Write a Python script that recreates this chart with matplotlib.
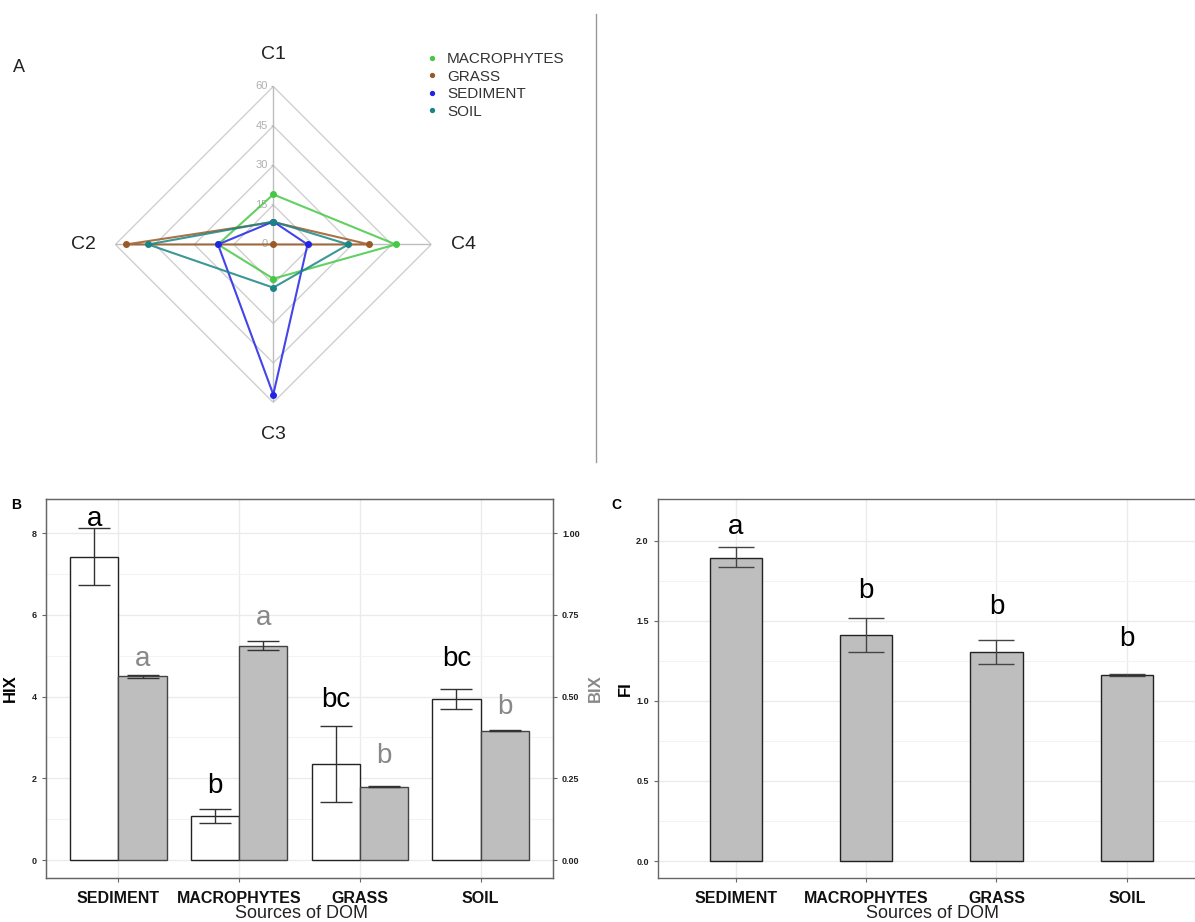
import numpy as np
import matplotlib
matplotlib.use("Agg")
import matplotlib.pyplot as plt

plt.rcParams['font.family'] = ['Liberation Sans', 'DejaVu Sans']

# ---------------- data ----------------
components = ["C1", "C2", "C3", "C4"]
radar_series = ["MACROPHYTES", "GRASS", "SEDIMENT", "SOIL"]
radar_macrophytes = [19, 21, 13, 46.5]
radar_grass = [8.5, 56, 0, 36.5]
radar_sediment = [8.7, 21, 57, 13]
radar_soil = [8.7, 47.5, 16.4, 28.5]
radar_colors = ["#46c846", "#9a5a28", "#2323e6", "#1a8585"]
radar_ticks = [0, 15, 30, 45, 60]

sources = ["SEDIMENT", "MACROPHYTES", "GRASS", "SOIL"]
hix_mean = [7.41, 1.07, 2.35, 3.95]
hix_low = [6.72, 0.90, 1.43, 3.70]
hix_high = [8.12, 1.26, 3.27, 4.19]
hix_letters = ["a", "b", "bc", "bc"]
hix_letter_y = [8.18, 1.65, 3.75, 4.75]

bix_mean = [0.563, 0.655, 0.224, 0.396]
bix_low = [0.558, 0.641, 0.223, 0.395]
bix_high = [0.567, 0.670, 0.225, 0.397]
bix_letters = ["a", "a", "b", "b"]
bix_letter_y = [0.594, 0.719, 0.296, 0.446]

fi_mean = [1.895, 1.411, 1.305, 1.160]
fi_low = [1.837, 1.305, 1.230, 1.154]
fi_high = [1.960, 1.520, 1.380, 1.169]
fi_letters = ["a", "b", "b", "b"]
fi_letter_y = [2.04, 1.64, 1.54, 1.34]

fig = plt.figure(figsize=(11.95, 9.22), dpi=100)

# ---------------- panel A: radar ----------------
axA = fig.add_axes([0.0965, 0.5635, 0.2644, 0.3427], projection='polar')
axA.set_theta_zero_location('N')
angles = np.deg2rad([0, 90, 180, 270])  # N, W, S, E (counter-clockwise)
axA.set_ylim(0, 60)
axA.grid(False)
axA.spines['polar'].set_visible(False)
axA.set_xticks([])
axA.set_yticks([])
axA.patch.set_alpha(0)

closed = np.append(angles, angles[0])
for r in radar_ticks[1:]:
    axA.plot(closed, [r] * 5, color='#d0d0d0', lw=1.0, zorder=1)
for a in angles:
    axA.plot([a, a], [0, 60], color='#bdbdbd', lw=1.0, zorder=1)
for r in radar_ticks:
    axA.annotate(str(r), xy=(0, r), xytext=(-4, 0), textcoords='offset points',
                 ha='right', va='center', fontsize=8, color='#b0b0b0')
    axA.annotate("", xy=(0, r), xytext=(-3, 0), textcoords='offset points',
                 arrowprops=dict(arrowstyle='-', color='#b0b0b0', lw=0.8))
for a, c in zip(angles, components):
    axA.text(a, 72.2, c, ha='center', va='center', fontsize=14, color='#222222',
             clip_on=False)

series_vals = [radar_macrophytes, radar_grass, radar_sediment, radar_soil]
for name, vals, col in zip(radar_series, series_vals, radar_colors):
    v = vals + [vals[0]]
    axA.plot(closed, v, color=col, lw=1.5, alpha=0.85, zorder=3)
    axA.plot(angles, vals, 'o', color=col, ms=4, zorder=4, label=name)

leg = fig.legend(*axA.get_legend_handles_labels(), loc='upper left',
                 bbox_to_anchor=(0.346, 0.958), frameon=False, fontsize=11,
                 handlelength=0.6, handletextpad=0.7, labelspacing=0.22,
                 markerscale=0.7)
for t in leg.get_texts():
    t.set_color('#333333')

fig.text(0.011, 0.927, "A", fontsize=13, color='#222222', va='center')
fig.add_artist(plt.Line2D([0.4987, 0.4987], [0.499, 0.985], color='#999999', lw=1))

# ---------------- helpers ----------------
def style_axes(ax):
    for s in ax.spines.values():
        s.set_color('#666666')
        s.set_linewidth(1.0)
    ax.tick_params(axis='both', length=3, color='#666666', labelsize=6.5,
                   labelcolor='#222222')
    for lab in ax.get_yticklabels():
        lab.set_fontweight('bold')
    ax.grid(True, which='major', color='#ebebeb', lw=1.0)
    ax.grid(True, which='minor', axis='y', color='#f3f3f3', lw=0.8)
    ax.set_axisbelow(True)

x = np.arange(1, 5)
bw = 0.4

# ---------------- panel B ----------------
axB = fig.add_axes([0.0385, 0.0477, 0.4243, 0.411])
axB.set_xlim(0.4, 4.6)
axB.set_ylim(-0.44, 8.83)
axB.bar(x - bw / 2, hix_mean, width=bw, color='white', edgecolor='#222222', lw=1, zorder=2)
axB.bar(x + bw / 2, np.array(bix_mean) * 8, width=bw, color='#bebebe',
        edgecolor='#444444', lw=1, zorder=2)
axB.errorbar(x - bw / 2, hix_mean,
             yerr=[np.array(hix_mean) - hix_low, np.array(hix_high) - hix_mean],
             fmt='none', ecolor='#333333', elinewidth=1, capsize=11.5, capthick=1, zorder=3)
axB.errorbar(x + bw / 2, np.array(bix_mean) * 8,
             yerr=[(np.array(bix_mean) - bix_low) * 8, (np.array(bix_high) - bix_mean) * 8],
             fmt='none', ecolor='#333333', elinewidth=1, capsize=11.5, capthick=1, zorder=3)
for xi, lab, yy in zip(x - bw / 2, hix_letters, hix_letter_y):
    axB.text(xi, yy, lab, ha='center', va='baseline', fontsize=20, color='black')
for xi, lab, yy in zip(x + bw / 2, bix_letters, bix_letter_y):
    axB.text(xi, yy * 8, lab, ha='center', va='baseline', fontsize=20, color='#888888')
axB.set_xticks(x)
axB.set_xticklabels(sources)
axB.set_yticks([0, 2, 4, 6, 8])
axB.set_yticks([1, 3, 5, 7], minor=True)
axB.tick_params(axis='y', which='minor', length=0)
style_axes(axB)
axB.tick_params(axis='x', labelsize=11.5, pad=6, labelcolor='#111111')
for lab in axB.get_xticklabels():
    lab.set_fontweight('bold')
axB.set_ylabel("HIX", fontsize=12, fontweight='bold', labelpad=10)

axB2 = axB.twinx()
axB2.set_ylim(-0.44 / 8, 8.83 / 8)
axB2.set_yticks([0, 0.25, 0.5, 0.75, 1.0])
axB2.set_yticklabels(["0.00", "0.25", "0.50", "0.75", "1.00"])
axB2.tick_params(axis='y', length=3, color='#666666', labelsize=6.5, labelcolor='#222222')
for lab in axB2.get_yticklabels():
    lab.set_fontweight('bold')
for s in axB2.spines.values():
    s.set_color('#666666')
axB2.set_ylabel("BIX", fontsize=12, fontweight='bold', color='#888888', labelpad=6)

fig.text(0.009, 0.452, "B", fontsize=10, fontweight='bold', va='center')
fig.text(0.252, 0.0005, "Sources of DOM", fontsize=13, ha='center', va='bottom', color='#222222')

# ---------------- panel C ----------------
axC = fig.add_axes([0.5504, 0.0477, 0.4579, 0.411])
axC.set_xlim(0.4, 4.6)
axC.set_ylim(-0.106, 2.26)
axC.bar(x, fi_mean, width=bw, color='#bebebe', edgecolor='#222222', lw=1, zorder=2)
axC.errorbar(x, fi_mean,
             yerr=[np.array(fi_mean) - fi_low, np.array(fi_high) - fi_mean],
             fmt='none', ecolor='#444444', elinewidth=1, capsize=13, capthick=1, zorder=3)
for xi, lab, yy in zip(x, fi_letters, fi_letter_y):
    axC.text(xi, yy, lab, ha='center', va='baseline', fontsize=20, color='black')
axC.set_xticks(x)
axC.set_xticklabels(sources)
axC.set_yticks([0, 0.5, 1.0, 1.5, 2.0])
axC.set_yticks([0.25, 0.75, 1.25, 1.75], minor=True)
axC.tick_params(axis='y', which='minor', length=0)
style_axes(axC)
axC.tick_params(axis='x', labelsize=11.5, pad=6, labelcolor='#111111')
for lab in axC.get_xticklabels():
    lab.set_fontweight('bold')
axC.set_ylabel("FI", fontsize=12, fontweight='bold', labelpad=2)

fig.text(0.512, 0.452, "C", fontsize=10, fontweight='bold', va='center')
fig.text(0.78, 0.0005, "Sources of DOM", fontsize=13, ha='center', va='bottom', color='#222222')

fig.savefig("out.png", dpi=100)
